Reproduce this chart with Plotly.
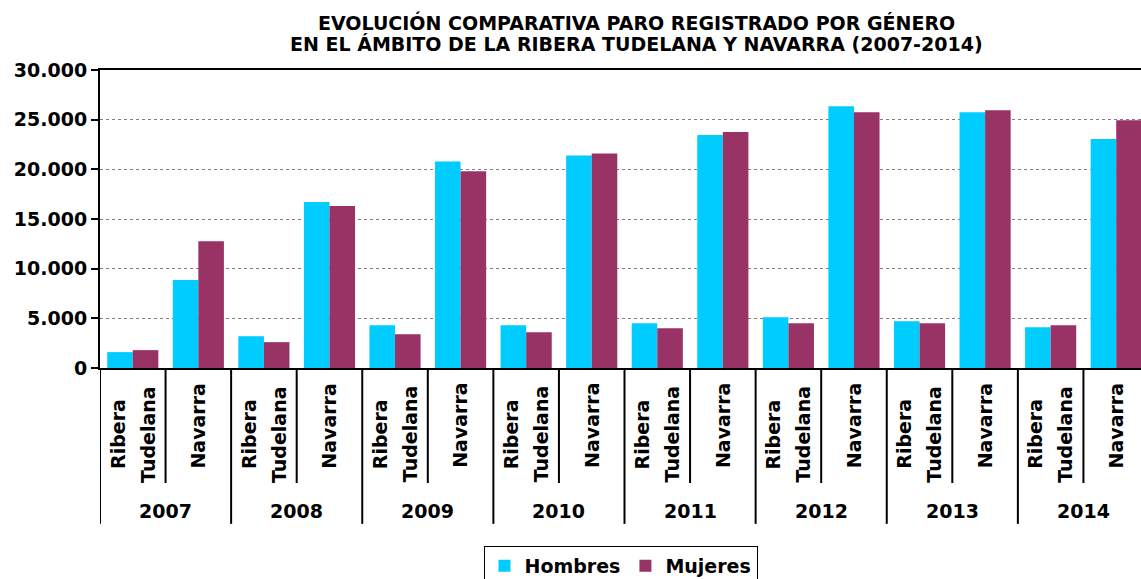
import plotly.graph_objects as go

years = ['2007', '2008', '2009', '2010', '2011', '2012', '2013', '2014']
areas = ['Ribera Tudelana', 'Navarra']
series_names = ['Hombres', 'Mujeres']

hombres_ribera = [1600, 3200, 4300, 4300, 4500, 5100, 4700, 4100]
mujeres_ribera = [1800, 2600, 3400, 3600, 4000, 4500, 4500, 4300]
hombres_navarra = [8850, 16700, 20800, 21400, 23450, 26350, 25750, 23050]
mujeres_navarra = [12750, 16300, 19800, 21600, 23750, 25750, 25950, 24950]

y_ticks = [0, 5000, 10000, 15000, 20000, 25000, 30000]

COL_H = '#00CCFF'
COL_M = '#993366'
FONT = 'DejaVu Sans'

# category positions on a numeric axis (year i -> Ribera at 2i, Navarra at 2i+1)
xpos = []
hom = []
muj = []
for i, y in enumerate(years):
    xpos += [2 * i, 2 * i + 1]
    hom += [hombres_ribera[i], hombres_navarra[i]]
    muj += [mujeres_ribera[i], mujeres_navarra[i]]

fig = go.Figure()
fig.add_trace(go.Bar(x=xpos, y=hom, name=series_names[0], marker=dict(color=COL_H, line=dict(width=0))))
fig.add_trace(go.Bar(x=xpos, y=muj, name=series_names[1], marker=dict(color=COL_M, line=dict(width=0))))

annotations = []
shapes = []
bold = dict(family=FONT, size=19, color='black', weight='bold')

# title (two lines)
annotations.append(dict(text='EVOLUCIÓN COMPARATIVA PARO REGISTRADO POR GÉNERO', xref='paper', yref='paper',
                        x=0.515, y=1.158, xanchor='center', yanchor='middle', showarrow=False,
                        font=dict(family=FONT, size=19, color='black', weight='bold')))
annotations.append(dict(text='EN EL ÁMBITO DE LA RIBERA TUDELANA Y NAVARRA (2007-2014)', xref='paper', yref='paper',
                        x=0.515, y=1.087, xanchor='center', yanchor='middle', showarrow=False,
                        font=dict(family=FONT, size=19, color='black', weight='bold')))

for i, y in enumerate(years):
    rt = 2 * i
    nav = 2 * i + 1
    annotations.append(dict(text='Ribera', x=rt, xref='x', y=-0.222, yref='paper', xshift=-15,
                            textangle=-90, showarrow=False, font=bold, xanchor='center', yanchor='middle'))
    annotations.append(dict(text='Tudelana', x=rt, xref='x', y=-0.222, yref='paper', xshift=15,
                            textangle=-90, showarrow=False, font=bold, xanchor='center', yanchor='middle'))
    annotations.append(dict(text='Navarra', x=nav, xref='x', y=-0.192, yref='paper',
                            textangle=-90, showarrow=False, font=bold, xanchor='center', yanchor='middle'))
    annotations.append(dict(text=y, x=rt + 0.5, xref='x', y=-0.4815, yref='paper',
                            showarrow=False, font=bold, xanchor='center', yanchor='middle'))
    # inner divider
    shapes.append(dict(type='line', xref='x', yref='paper', x0=rt + 0.5, x1=rt + 0.5, y0=0, y1=-0.386,
                       line=dict(color='black', width=2)))
    # outer divider
    shapes.append(dict(type='line', xref='x', yref='paper', x0=rt - 0.5, x1=rt - 0.5, y0=0, y1=-0.523,
                       line=dict(color='black', width=2)))

fig.update_layout(
    width=1141, height=579,
    margin=dict(l=100, r=0, t=70, b=211, autoexpand=False),
    paper_bgcolor='white', plot_bgcolor='white',
    separators=',.',
    barmode='group', bargap=0.22, bargroupgap=0,
    annotations=annotations, shapes=shapes,
    showlegend=True,
    legend=dict(orientation='h', x=0.5, xanchor='center', y=-0.597, yanchor='top',
                bordercolor='black', borderwidth=1, bgcolor='white',
                font=dict(family=FONT, size=19, color='black', weight='bold'),
                itemwidth=30, tracegroupgap=0),
    xaxis=dict(range=[-0.5, 15.378], showticklabels=False, showgrid=False, zeroline=False,
               showline=True, linecolor='black', linewidth=2, mirror=True, ticks='', automargin=False),
    yaxis=dict(range=[0, 30000], tickvals=y_ticks, tickformat=',d', showgrid=True,
               gridcolor='#7f7f7f', griddash='dot', gridwidth=1, zeroline=False,
               showline=True, linecolor='black', linewidth=2, ticks='outside', ticklen=7,
               tickwidth=2, tickcolor='black', automargin=False,
               tickfont=dict(family=FONT, size=19, color='black', weight='bold')),
)

fig.write_html('out.html', config={'displayModeBar': False},
               post_script="document.body.style.margin='0';document.body.style.overflow='hidden';")
